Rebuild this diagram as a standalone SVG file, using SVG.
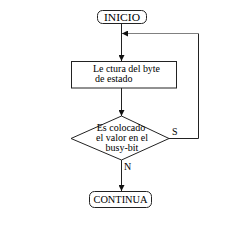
<svg xmlns="http://www.w3.org/2000/svg" width="251" height="236" viewBox="0 0 251 236">
<style>
.shape{fill:#fff;stroke:#222;stroke-width:1}
.ln{fill:none;stroke:#222;stroke-width:1}
.t{font-family:"Liberation Serif","Times New Roman",serif;font-size:10px;fill:#000}
</style>
<defs>
<marker id="ah" viewBox="0 0 6 6" refX="6" refY="3" markerWidth="6" markerHeight="6" markerUnits="userSpaceOnUse" orient="auto">
<path d="M0,0 L6,3 L0,6 z" fill="#111"/>
</marker>
</defs>
<rect width="251" height="236" fill="#fff"/>
<g id="connectors">
<line class="ln" x1="121.5" y1="23" x2="121.5" y2="61" marker-end="url(#ah)"/>
<line class="ln" x1="121.5" y1="88" x2="121.5" y2="116" marker-end="url(#ah)"/>
<line class="ln" x1="121.5" y1="160" x2="121.5" y2="191" marker-end="url(#ah)"/>
<polyline class="ln" points="169,138.5 198.5,138.5 198.5,33.5"/>
<line x1="198.5" y1="33.5" x2="122" y2="33.5" stroke="#808080" stroke-width="1.2" marker-end="url(#ah)"/>
<text class="t" x="172" y="135">S</text>
<text class="t" x="124" y="170">N</text>
</g>
<g id="inicio">
<rect class="shape" x="97.5" y="10.5" width="49" height="13" rx="5"/>
<text class="t" x="122" y="20.5" text-anchor="middle" textLength="36" lengthAdjust="spacingAndGlyphs">INICIO</text>
</g>
<g id="lectura">
<rect class="shape" x="71.5" y="61.5" width="105" height="26.5"/>
<text class="t" x="93" y="72" textLength="67" lengthAdjust="spacingAndGlyphs">Le ctura del byte</text>
<text class="t" x="95" y="82">de estado</text>
</g>
<g id="decision">
<polygon class="shape" points="121.5,116 169,138.5 121.5,160 71,138.5"/>
<text class="t" x="121" y="131" text-anchor="middle">Es colocado</text>
<text class="t" x="122" y="141" text-anchor="middle">el valor en el</text>
<text class="t" x="122" y="151" text-anchor="middle">busy-bit</text>
</g>
<g id="continua">
<rect class="shape" x="89.5" y="191.5" width="62" height="16" rx="5"/>
<text class="t" x="120.5" y="203" text-anchor="middle" textLength="54" lengthAdjust="spacingAndGlyphs">CONTINUA</text>
</g>
</svg>
